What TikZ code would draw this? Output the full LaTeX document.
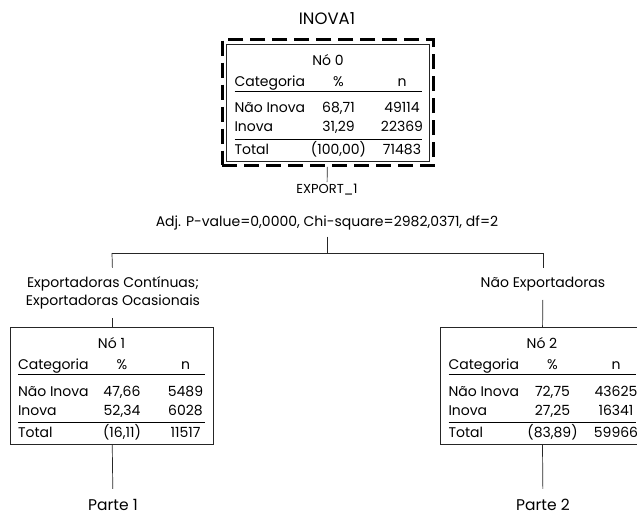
\documentclass[tikz,border=0pt]{standalone}
\usepackage{fontspec}
\setmainfont{Poppins}
\usepackage{array}
\usepackage{tikz}
\usetikzlibrary{arrows,positioning,fit}

\newcommand{\nodetab}[7]{%
  \begin{tabular}{@{}p{80pt}@{}w{c}{48pt}@{\hspace{20pt}}w{c}{39pt}@{}}
    \multicolumn{3}{c}{\rule{0pt}{20pt}#1}\\[2pt]
    Categoria & \% & n\\[-1pt] \hline
    \rule{0pt}{21.8pt}Não Inova & #2 & #3\\
    Inova & #4 & #5\\[1.3pt] \hline
    \rule{0pt}{15pt}Total & #6 & #7
  \end{tabular}}

\begin{document}
\begin{tikzpicture}[x=1pt,y=-1pt,thick,
  tab node/.style={draw=black!85,line width=0.7pt,inner sep=0pt,minimum width=203pt,minimum height=117pt,font=\fontsize{14}{19}\selectfont},
  lbl/.style={font=\fontsize{14}{18}\selectfont,align=center,inner xsep=2pt,inner ysep=8.5pt},
  big lbl/.style={font=\fontsize{15.5}{17}\selectfont,inner xsep=2pt,inner ysep=10pt},
  wire/.style={draw=black!85,line width=0.7pt}]

  \useasboundingbox (0,0) rectangle (637,515);
  \clip (0,0) rectangle (637,515);

  \node[big lbl,font=\fontsize{16.5}{18}\selectfont] (title) at (327,19) {INOVA1};

  \node[tab node] (0) at (328,102.5) {\nodetab{Nó 0}{68,71}{49114}{31,29}{22369}{(100,00)}{71483}};
  \node[draw,dashed,dash pattern=on 15pt off 7pt,line width=2.8pt,inner sep=4pt,fit=(0)] (d0) {};

  \node[lbl,font=\fontsize{13}{16}\selectfont,inner ysep=2pt] (var) at (327,190) {EXPORT\_1};
  \node[lbl,inner ysep=6pt] (stat) at (327,223) {Adj. P-value=0,0000, Chi-square=2982,0371, df=2};

  \coordinate (s) at (327,253);
  \coordinate (sl) at (112,253);
  \coordinate (sr) at (543,253);

  \node[lbl] (cl) at (113,293) {Exportadoras Contínuas;\\Exportadoras Ocasionais};
  \node[lbl] (cr) at (543,284) {Não Exportadoras};

  \node[tab node] (1) at (111.5,386) {\nodetab{Nó 1}{47,66}{5489}{52,34}{6028}{(16,11)}{11517}};
  \node[tab node] (2) at (542,386) {\nodetab{Nó 2}{72,75}{43625}{27,25}{16341}{(83,89)}{59966}};

  \node[big lbl] (p1) at (113,505) {Parte 1};
  \node[big lbl] (p2) at (543,505) {Parte 2};

  \path[wire]
    (d0) edge (var)
    (stat) edge (s)
    (sl) edge (sr)
    (sl) edge (cl)
    (sr) edge (cr)
    (cl) edge (1)
    (cr) edge (2)
    (1) edge (p1)
    (2) edge (p2);
\end{tikzpicture}
\end{document}
